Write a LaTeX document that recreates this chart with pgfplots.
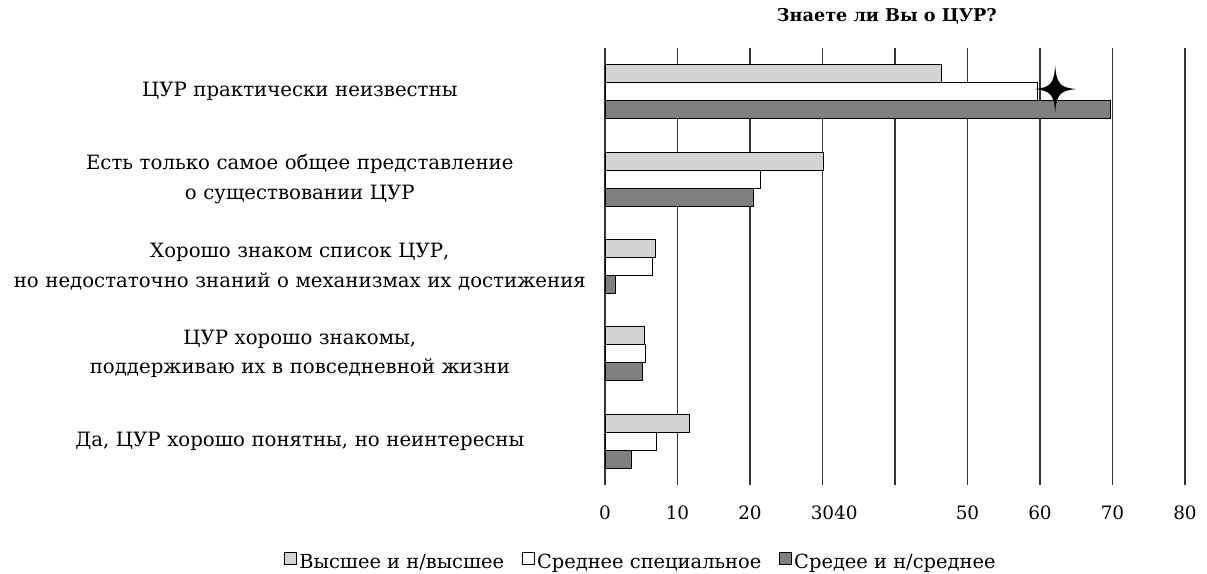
\documentclass[border=0pt]{standalone}
\usepackage{fontspec}
\setmainfont{DejaVu Serif}
\usepackage{pgfplots}
\pgfplotsset{compat=1.18}

\definecolor{barLight}{HTML}{D3D3D3}
\definecolor{barDark}{HTML}{808080}
\definecolor{gridDark}{HTML}{333333}

% four-pointed star
\pgfdeclareplotmark{star4}{%
  \pgfpathmoveto{\pgfpoint{0bp}{23bp}}%
  \pgfpathcurveto{\pgfpoint{1.5bp}{5bp}}{\pgfpoint{5bp}{1.5bp}}{\pgfpoint{21bp}{0bp}}%
  \pgfpathcurveto{\pgfpoint{5bp}{-1.5bp}}{\pgfpoint{1.5bp}{-5bp}}{\pgfpoint{0bp}{-23bp}}%
  \pgfpathcurveto{\pgfpoint{-1.5bp}{-5bp}}{\pgfpoint{-5bp}{-1.5bp}}{\pgfpoint{-21bp}{0bp}}%
  \pgfpathcurveto{\pgfpoint{-5bp}{1.5bp}}{\pgfpoint{-1.5bp}{5bp}}{\pgfpoint{0bp}{23bp}}%
  \pgfpathclose
  \pgfusepathqfill
}

\begin{document}
\begin{tikzpicture}
\useasboundingbox (0bp,0bp) rectangle (1207bp,574bp);
\begin{axis}[
    at={(605bp,89bp)}, anchor=south west,
    scale only axis,
    width=580bp, height=437bp,
    xmin=0, xmax=80,
    ymin=-0.5, ymax=4.5,
    xtick={0,10,...,80},
    xticklabels={0,10,20,30\rlap{40},,50,60,70,80},
    xticklabel style={anchor=base, yshift=-34bp, font=\fontsize{18.5}{21}\selectfont},
    ytick={0,...,4},
    yticklabels={
        {Да, ЦУР хорошо понятны, но неинтересны},
        {ЦУР хорошо знакомы,\\поддерживаю их в повседневной жизни},
        {Хорошо знаком список ЦУР,\\но недостаточно знаний о механизмах их достижения},
        {Есть только самое общее представление\\о существовании ЦУР},
        {ЦУР практически неизвестны}},
    yticklabel style={text width=600bp, align=center, inner sep=0pt, xshift=-5bp,
        font=\fontsize{19.8}{29.5}\selectfont},
    major tick length=0pt,
    axis line style={draw=none},
    xmajorgrids,
    grid style={gridDark, line width=1.3bp},
    title={Знаете ли Вы о ЦУР?},
    title style={at={(0.486,1)}, anchor=base, yshift=21bp,
        font=\bfseries\fontsize{17.7}{21}\selectfont},
    legend style={at={(0.062,-0.176)}, anchor=center, draw=none,
        font=\fontsize{19.5}{22}\selectfont,
        /tikz/every even column/.style={column sep=16bp},
        nodes={inner xsep=2bp}},
    legend columns=-1,
    legend image code/.code={\draw[#1,/tikz/.cd,yshift=-0.3em] (0bp,0bp) rectangle (12bp,12bp);},
    every axis plot/.append style={draw=black, line width=0.9bp},
]
\addplot[xbar, bar width=0.206, bar shift=0.206, fill=barLight]
    coordinates {(11.6,0) (5.4,1) (6.9,2) (30.2,3) (46.4,4)};
\addplot[xbar, bar width=0.206, bar shift=0, fill=white]
    coordinates {(7.1,0) (5.6,1) (6.5,2) (21.5,3) (59.6,4)};
\addplot[xbar, bar width=0.206, bar shift=-0.206, fill=barDark]
    coordinates {(3.7,0) (5.1,1) (1.4,2) (20.5,3) (69.7,4)};
\addplot[sharp plot, only marks, mark=star4, forget plot,
    mark options={fill=black, draw=none}]
    coordinates {(62.1,4.03)};
\legend{Высшее и н/высшее, Среднее специальное, Средее и н/среднее}
\end{axis}
\end{tikzpicture}
\end{document}
